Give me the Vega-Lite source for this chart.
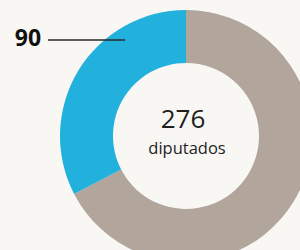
{
  "$schema": "https://vega.github.io/schema/vega-lite/v6.json",
  "width": 372,
  "height": 272,
  "autosize": "none",
  "padding": 0,
  "background": "#f8f7f4",
  "config": {"view": {"stroke": null}},
  "datasets": {
    "textos": [
      {"texto": "90", "x": -1.264, "y": 0.776, "tipo": "valor"},
      {"texto": "276", "x": -0.024, "y": 0.128, "tipo": "total"},
      {"texto": "diputados", "x": 0.008, "y": -0.104, "tipo": "unidad"}
    ]
  },
  "layer": [
    {
      "data": {"values": [
        {"grupo": "resto", "diputados": 186, "orden": 1},
        {"grupo": "bloque", "diputados": 90, "orden": 2}
      ]},
      "mark": {"type": "arc", "outerRadius": 126, "innerRadius": 73},
      "encoding": {
        "theta": {"field": "diputados", "type": "quantitative", "stack": true},
        "order": {"field": "orden", "type": "quantitative"},
        "color": {"field": "grupo", "type": "nominal", "scale": {"domain": ["resto", "bloque"], "range": ["#b2a59b", "#22b1dd"]}, "legend": null}
      }
    },
    {
      "data": {"values": [
        {"x": -1.104, "x2": -0.488, "y": 0.768}
      ]},
      "mark": {"type": "rule", "color": "#2a2a2a", "strokeWidth": 1.3},
      "encoding": {
        "x": {"field": "x", "type": "quantitative", "scale": {"domain": [-1.488, 1.488], "nice": false, "zero": false}, "axis": null},
        "x2": {"field": "x2"},
        "y": {"field": "y", "type": "quantitative", "scale": {"domain": [-1.088, 1.088], "nice": false, "zero": false}, "axis": null}
      }
    },
    {
      "data": {"name": "textos"},
      "transform": [{"filter": "datum.tipo === 'valor'"}],
      "mark": {"type": "text", "font": "Open Sans", "fontWeight": "bold", "fontSize": 23, "color": "#111111", "baseline": "middle", "align": "center"},
      "encoding": {
        "x": {"field": "x", "type": "quantitative", "scale": {"domain": [-1.488, 1.488], "nice": false, "zero": false}, "axis": null},
        "y": {"field": "y", "type": "quantitative", "scale": {"domain": [-1.088, 1.088], "nice": false, "zero": false}, "axis": null},
        "text": {"field": "texto"}
      }
    },
    {
      "data": {"name": "textos"},
      "transform": [{"filter": "datum.tipo === 'total'"}],
      "mark": {"type": "text", "font": "Open Sans", "fontSize": 26, "color": "#1e1e1e", "baseline": "middle", "align": "center"},
      "encoding": {
        "x": {"field": "x", "type": "quantitative", "scale": {"domain": [-1.488, 1.488], "nice": false, "zero": false}, "axis": null},
        "y": {"field": "y", "type": "quantitative", "scale": {"domain": [-1.088, 1.088], "nice": false, "zero": false}, "axis": null},
        "text": {"field": "texto"}
      }
    },
    {
      "data": {"name": "textos"},
      "transform": [{"filter": "datum.tipo === 'unidad'"}],
      "mark": {"type": "text", "font": "Open Sans", "fontSize": 16.5, "letterSpacing": -0.4, "color": "#1e1e1e", "baseline": "middle", "align": "center"},
      "encoding": {
        "x": {"field": "x", "type": "quantitative", "scale": {"domain": [-1.488, 1.488], "nice": false, "zero": false}, "axis": null},
        "y": {"field": "y", "type": "quantitative", "scale": {"domain": [-1.088, 1.088], "nice": false, "zero": false}, "axis": null},
        "text": {"field": "texto"}
      }
    }
  ]
}
